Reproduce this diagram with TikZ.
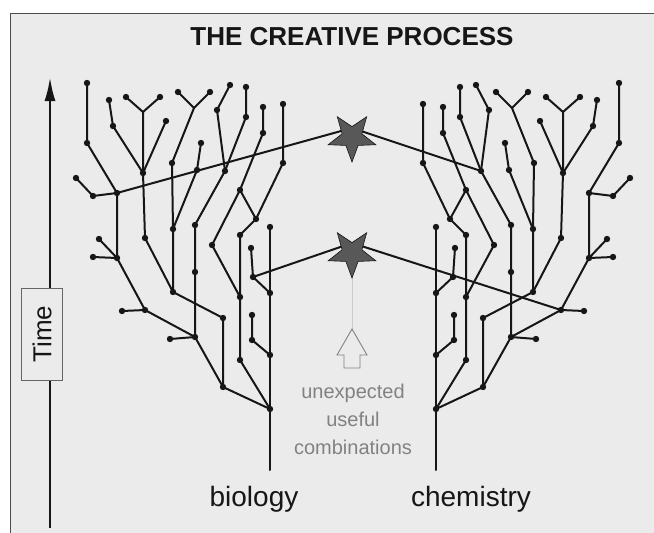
\documentclass[tikz,border=0pt]{standalone}
\usepackage{fontspec}
\setmainfont{Liberation Sans}
\usetikzlibrary{arrows.meta,shapes.geometric}

\definecolor{paper}{RGB}{235,235,235}
\definecolor{ink}{RGB}{22,22,22}
\definecolor{stargray}{RGB}{88,88,88}
\definecolor{softgray}{RGB}{130,130,130}

\tikzset{
  branch/.style={draw=ink, line width=2pt, line join=round, line cap=round},
  bud/.style={fill=ink},
  starnode/.style={star, star points=5, star point ratio=2.4, shape border rotate=180,
    minimum size=50pt, inner sep=0pt, fill=stargray, draw=ink, line width=0.6pt},
  fieldname/.style={text=ink, font=\fontsize{28}{32}\selectfont}
}

% one half of the picture (the biology tree); #1 = prefix of its point names
\newcommand{\branchtree}[1]{%
  \foreach \n/\x/\y in {tb/270/470, root/270/409, t1/270/355, t2/270/293, t3/270/227,
      d0/223/387, d1/223/318, d2/173/292, d3/173/229, d4/172/163,
      y2/194/108, y2a/178/92, y2b/210/92, e1/201/143, e2/197/170,
      g1/145/238, j2/143/173, y1/143/112, y1a/126/97, y1b/160/97, c1/166/121,
      b1/109/100, b2/113/126, a1/87/83, a2/87/143, j1/117/193, s1/76/178, s2/93/196,
      k1/117/258, k1a/99/239, k1b/93/257, k2/145/310, k2a/122/311, k3/195/337, k3a/170/339,
      v1/195/272, v2/195/225, f0/225/171, f1/217/110, f2/230/85, f3/246/117, f4/246/87,
      i1/240/360, i2/240/297, i3/240/235, i4/256/219, h1/283/163, h2/283/104,
      x0/240/190, x1/263/133, x2/263/107, w1/212/245,
      m1/251/248, m2/253/277, n1/252/315, n2/252/340}
    \coordinate (#1-\n) at (\x,\y);
  % trunk
  \draw[branch] (#1-tb) -- (#1-root) -- (#1-t1) -- (#1-t2) -- (#1-t3);
  % outer limbs
  \draw[branch] (#1-root) -- (#1-d0) -- (#1-d1) -- (#1-d2) -- (#1-d3) -- (#1-d4) -- (#1-y2) -- (#1-y2a);
  \draw[branch] (#1-y2) -- (#1-y2b);
  \draw[branch] (#1-d3) -- (#1-e2) -- (#1-e1);
  \draw[branch] (#1-d2) -- (#1-g1) -- (#1-j2) -- (#1-y1) -- (#1-y1a);
  \draw[branch] (#1-y1) -- (#1-y1b);
  \draw[branch] (#1-j2) -- (#1-c1);
  \draw[branch] (#1-j2) -- (#1-b2) -- (#1-b1);
  \draw[branch] (#1-d0) -- (#1-k3) -- (#1-k2) -- (#1-k1) -- (#1-j1) -- (#1-a2) -- (#1-a1);
  \draw[branch] (#1-j1) -- (#1-s2) -- (#1-s1);
  \draw[branch] (#1-k1a) -- (#1-k1) -- (#1-k1b);
  \draw[branch] (#1-k2) -- (#1-k2a);
  \draw[branch] (#1-k3) -- (#1-k3a);
  \draw[branch] (#1-k3) -- (#1-v1) -- (#1-v2) -- (#1-f0) -- (#1-f1) -- (#1-f2);
  \draw[branch] (#1-f0) -- (#1-f3) -- (#1-f4);
  % inner limbs
  \draw[branch] (#1-root) -- (#1-i1) -- (#1-i2) -- (#1-i3) -- (#1-i4) -- (#1-h1) -- (#1-h2);
  \draw[branch] (#1-i4) -- (#1-x0) -- (#1-x1) -- (#1-x2);
  \draw[branch] (#1-x0) -- (#1-w1) -- (#1-i2);
  \draw[branch] (#1-m1) -- (#1-m2) -- (#1-t2);
  \draw[branch] (#1-n1) -- (#1-n2) -- (#1-t1);
  % buds
  \foreach \p in {root, t1, t2, t3, d0, d1, d2, d3, d4, y2a, y2b, e1, e2, g1, j2, y1a, y1b, c1,
      b1, b2, a1, a2, j1, s1, s2, k1, k1a, k1b, k2, k2a, k3, k3a, v1, v2, f0, f1, f2, f3, f4,
      i1, i2, i3, i4, h1, h2, x0, x1, x2, w1, m1, m2, n1, n2}
    \fill[bud] (#1-\p) circle (3.2pt);
}

\begin{document}
\begin{tikzpicture}[x=1pt, y=-1pt]
  \useasboundingbox (0,0) rectangle (654,533);
  % frame
  \fill[white] (0,0) rectangle (654,533);
  \fill[paper] (10,13) rectangle (654,533);
  \draw[black!70, line width=0.8pt] (10,533) -- (10,13) -- (654,13);

  % title
  \node[font=\fontsize{26}{30}\selectfont\bfseries, text=ink] (title) at (352,37) {THE CREATIVE PROCESS};

  % time axis
  \coordinate (tlow) at (50,528);
  \coordinate (thigh) at (50,77);
  \draw[ink, line width=2.6pt, -{Latex[length=24pt,width=11pt]}] (tlow) -- (thigh);
  \node[draw=black!60, line width=0.8pt, fill=paper, rotate=90, minimum width=92pt, minimum height=41pt,
    inner sep=0pt, font=\fontsize{26}{30}\selectfont, text=ink] (timebox) at (42,334) {Time};

  % biology (left) and chemistry (right, mirrored)
  \branchtree{L}
  \begin{scope}[shift={(706,0)}, xscale=-1]
    \branchtree{R}
  \end{scope}

  % combinations
  \coordinate (meetup) at (352,128);
  \coordinate (meetlo) at (352,243);
  \draw[branch] (L-j1) -- (meetup) -- (R-f0);
  \draw[branch] (L-m2) -- (meetlo) -- (R-k2);

  % faint guide and hollow arrow
  \coordinate (tip) at (352,329);
  \draw[black!20, line width=0.5pt] (meetlo) -- (tip);
  \draw[softgray, line width=0.9pt, fill=paper, line join=miter]
    (tip) -- ++(-15,26) -- ++(7,0) -- ++(0,13) -- ++(16,0) -- ++(0,-13) -- ++(7,0) -- cycle;

  % stars
  \node[starnode] (starup) at (352,137) {};
  \node[starnode] (starlo) at (352,253) {};

  % texts
  \node[text=softgray, align=center, font=\fontsize{20}{28}\selectfont] (combo) at (353,419)
    {unexpected\\useful\\combinations};
  \node[fieldname] (bio) at (254,499) {biology};
  \node[fieldname] (chem) at (471,499) {chemistry};
\end{tikzpicture}
\end{document}
